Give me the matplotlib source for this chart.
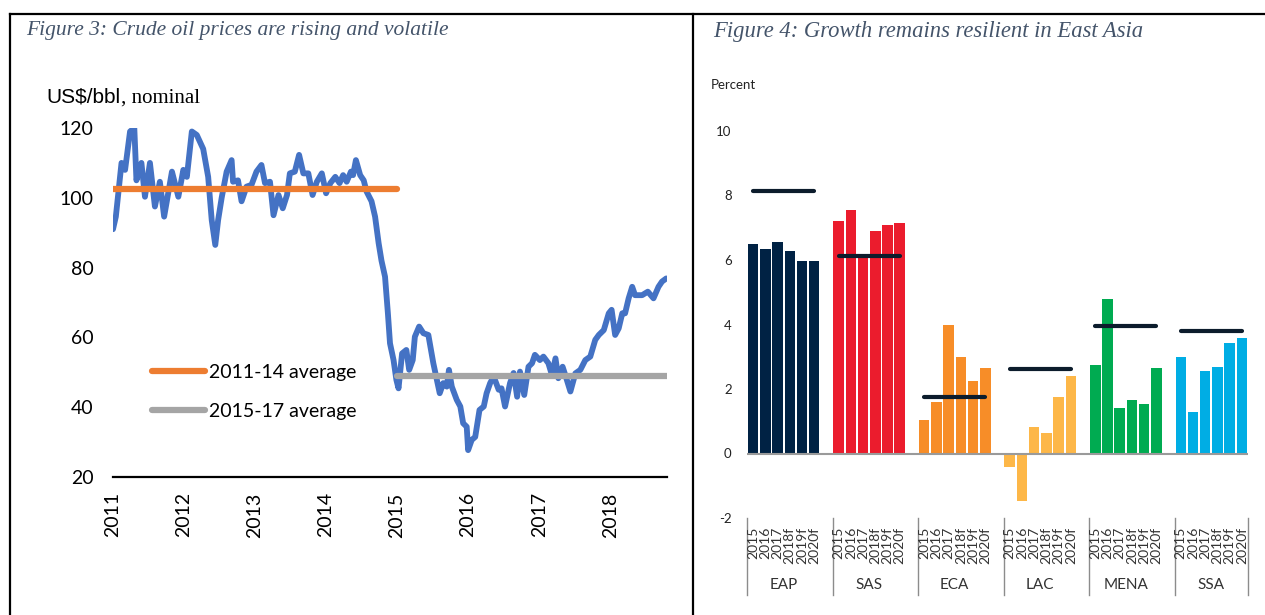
import numpy as np
import matplotlib
matplotlib.use('Agg')
import matplotlib.pyplot as plt
from matplotlib.lines import Line2D
from matplotlib import transforms

plt.rcParams['font.family'] = 'Lato'
plt.rcParams['axes.unicode_minus'] = False

# ---- Figure 3 data: crude oil price, US$/bbl ----
oil_year = [2011.00, 2011.04, 2011.12, 2011.17, 2011.24, 2011.30, 2011.33, 2011.40,
            2011.45, 2011.52, 2011.59, 2011.66, 2011.72, 2011.83, 2011.92, 2011.99,
            2012.04, 2012.11, 2012.18, 2012.27, 2012.34, 2012.39, 2012.44, 2012.48,
            2012.53, 2012.60, 2012.67, 2012.69, 2012.76, 2012.81, 2012.88, 2012.95,
            2013.02, 2013.09, 2013.14, 2013.21, 2013.26, 2013.33, 2013.39, 2013.45,
            2013.49, 2013.56, 2013.62, 2013.68, 2013.75, 2013.81, 2013.87, 2013.94,
            2014.00, 2014.06, 2014.13, 2014.19, 2014.24, 2014.29, 2014.35, 2014.38,
            2014.42, 2014.48, 2014.53, 2014.57, 2014.64, 2014.69, 2014.74, 2014.78,
            2014.83, 2014.87, 2014.90, 2014.95, 2014.99, 2015.02, 2015.07, 2015.13,
            2015.17, 2015.22, 2015.25, 2015.31, 2015.37, 2015.44, 2015.51, 2015.56,
            2015.60, 2015.65, 2015.70, 2015.73, 2015.77, 2015.84, 2015.89, 2015.93,
            2015.98, 2016.00, 2016.05, 2016.10, 2016.16, 2016.22, 2016.26, 2016.31,
            2016.36, 2016.43, 2016.47, 2016.52, 2016.59, 2016.64, 2016.69, 2016.73,
            2016.79, 2016.85, 2016.90, 2016.94, 2017.01, 2017.06, 2017.13, 2017.18,
            2017.23, 2017.27, 2017.33, 2017.39, 2017.44, 2017.51, 2017.58, 2017.65,
            2017.72, 2017.79, 2017.84, 2017.91, 2017.98, 2018.02, 2018.07, 2018.12,
            2018.17, 2018.21, 2018.26, 2018.31, 2018.35, 2018.45, 2018.53, 2018.61,
            2018.68, 2018.73, 2018.79]
oil_price = [91, 94.6, 110, 108, 119, 120, 105, 110,
             100.3, 110, 97.5, 104.6, 94.6, 107.5, 100.3, 108,
             106, 119, 118, 114, 106, 93.6, 86.5, 93.6,
             100, 107.5, 110.8, 104.6, 105, 99, 103.2, 103.7,
             107.5, 109.4, 104.2, 104.6, 95, 100.8, 97, 100.8,
             107, 107.5, 112.3, 107, 107, 100.8, 104.6, 107,
             101.3, 104.2, 106, 104.2, 106.5, 104.6, 107.5, 106.5,
             110.8, 106.5, 105, 101.8, 99, 94.6, 87, 82,
             77.4, 67, 58.3, 53.5, 47.8, 45.4, 55.4, 56.4,
             50.7, 53.5, 60.2, 63.1, 61.2, 60.7, 52.6, 47.8,
             44, 46.9, 45.9, 50.7, 45.9, 42.1, 40.2, 35.4,
             34.4, 27.7, 30.6, 31.5, 39.2, 40.2, 44, 46.9,
             48.8, 45, 45.4, 40.2, 46.9, 49.8, 43, 50.2,
             43.5, 51.6, 52.6, 55, 53.5, 54.5, 52.6, 49.2,
             54, 48.3, 51.6, 47.8, 44.5, 49.7, 50.7, 53.5,
             54.5, 59.3, 60.7, 62.1, 66.9, 67.9, 60.7, 62.6,
             66.9, 66.9, 71.2, 74.5, 72.1, 72.1, 73.1, 71.2,
             74.5, 76, 76.9]
avg_labels = ['2011-14 average', '2015-17 average']
avg_values = [102.5, 48.9]
avg_spans = [(2011.0, 2015.0), (2015.0, 2018.8)]
year_ticks = [2011, 2012, 2013, 2014, 2015, 2016, 2017, 2018]

# ---- Figure 4 data: GDP growth, percent ----
regions = ['EAP', 'SAS', 'ECA', 'LAC', 'MENA', 'SSA']
bar_years = ['2015', '2016', '2017', '2018f', '2019f', '2020f']
eap = [6.5, 6.34, 6.55, 6.29, 5.96, 5.96]
sas = [7.2, 7.54, 6.18, 6.9, 7.08, 7.16]
eca = [1.03, 1.6, 3.97, 2.98, 2.24, 2.66]
lac = [-0.43, -1.46, 0.82, 0.63, 1.74, 2.4]
mena = [2.74, 4.8, 1.41, 1.65, 1.54, 2.65]
ssa = [2.98, 1.29, 2.56, 2.68, 3.42, 3.57]
region_avg = [8.15, 6.12, 1.74, 2.61, 3.96, 3.81]
region_colors = ['#002244', '#eb1c2d', '#f78d28', '#fdb748', '#00ab51', '#00ade4']

W, H = 1265, 615
fig = plt.figure(figsize=(W / 100, H / 100), dpi=100)

def fx(px):
    return px / W

def fy(py):
    return 1 - py / H

# frame lines
line_kw = dict(color='black', lw=1.6, transform=fig.transFigure)
fig.add_artist(Line2D([fx(10), 1], [fy(14), fy(14)], **line_kw))
fig.add_artist(Line2D([fx(10), fx(10)], [fy(14), 0], **line_kw))
fig.add_artist(Line2D([fx(693), fx(693)], [fy(14), 0], **line_kw))

title_kw = dict(family='Liberation Serif', style='italic', color='#44546a',
                va='center', ha='left')
fig.text(fx(26), fy(31), 'Figure 3: Crude oil prices are rising and volatile',
         fontsize=15.5, **title_kw)
fig.text(fx(713), fy(31), 'Figure 4: Growth remains resilient in East Asia',
         fontsize=16.3, **title_kw)

# ---------------- left chart ----------------
ax1 = fig.add_axes([fx(113), fy(477), fx(667) - fx(113), fy(128) - fy(477)])
ax1.plot(oil_year, oil_price, color='#4472c4', lw=4.2, solid_joinstyle='round',
         solid_capstyle='round', zorder=2)
for lab, val, (x0, x1), col in zip(avg_labels, avg_values, avg_spans, ['#ed7d31', '#a5a5a5']):
    ax1.plot([x0, x1], [val, val], color=col, lw=4.5, solid_capstyle='round',
             label=lab, zorder=3)
ax1.set_xlim(2011, 2018.8)
ax1.set_ylim(20, 120)
ax1.set_yticks([20, 40, 60, 80, 100, 120])
ax1.set_xticks(year_ticks)
ax1.set_xticklabels([str(y) for y in year_ticks], rotation=90, fontsize=14, va='top')
ax1.tick_params(axis='y', length=0, pad=14, labelsize=14)
ax1.tick_params(axis='x', length=0, pad=11)
for s in ['top', 'right', 'left']:
    ax1.spines[s].set_visible(False)
ax1.spines['bottom'].set_linewidth(1.6)
ax1.spines['bottom'].set_zorder(1)
ax1.legend(loc='center left', bbox_to_anchor=((152 - 113) / 554, (477 - 392) / 349),
           frameon=False, fontsize=14, handlelength=2.7, handletextpad=0.25,
           labelspacing=1.15, borderpad=0, borderaxespad=0)
fig.text(fx(46), fy(103), 'US$/bbl', family='Liberation Sans', fontsize=15,
         va='baseline', ha='left')
fig.text(fx(121), fy(103), ', nominal', family='Liberation Serif', fontsize=15,
         va='baseline', ha='left')

# ---------------- right chart ----------------
ax2 = fig.add_axes([fx(747), fy(518), fx(1248) - fx(747), fy(131) - fy(518)])
series = [eap, sas, eca, lac, mena, ssa]
slot = np.arange(len(bar_years))
for g, (vals, col, avg) in enumerate(zip(series, region_colors, region_avg)):
    xs = g * 7 + slot
    ax2.bar(xs, vals, width=0.86, color=col, zorder=2)
    ax2.plot([xs[0], xs[-1]], [avg, avg], color='#0c1c2c', lw=3,
             solid_capstyle='round', zorder=4)
ax2.axhline(0, color='#9a9a9a', lw=1.5, zorder=3)
ax2.set_xlim(-0.5, 40.5)
ax2.set_ylim(-2, 10)
ax2.set_yticks([-2, 0, 2, 4, 6, 8, 10])
ax2.set_xticks([])
ax2.tick_params(axis='y', length=0, pad=11, labelsize=9.5, labelcolor='#222222')
for s in ax2.spines.values():
    s.set_visible(False)

trans = transforms.blended_transform_factory(ax2.transData, ax2.transAxes)
ax_h = 518 - 131
for g, reg in enumerate(regions):
    for i, yl in enumerate(bar_years):
        ax2.text(g * 7 + i, -9 / ax_h, yl, rotation=90, ha='center', va='top',
                 fontsize=10, color='#333333', transform=trans)
    ax2.text(g * 7 + 2.5, -67 / ax_h, reg, ha='center', va='center', fontsize=11,
             color='#333333', transform=trans)
for xsep in [g * 7 - 0.5 for g in range(len(regions))] + [40.5]:
    ax2.plot([xsep, xsep], [0, -77 / ax_h], color='#8c8c8c', lw=1,
             transform=trans, clip_on=False)

fig.text(fx(711), fy(85), 'Percent', fontsize=9.5, color='#222222', va='center', ha='left')

fig.savefig('out.png', dpi=100)
